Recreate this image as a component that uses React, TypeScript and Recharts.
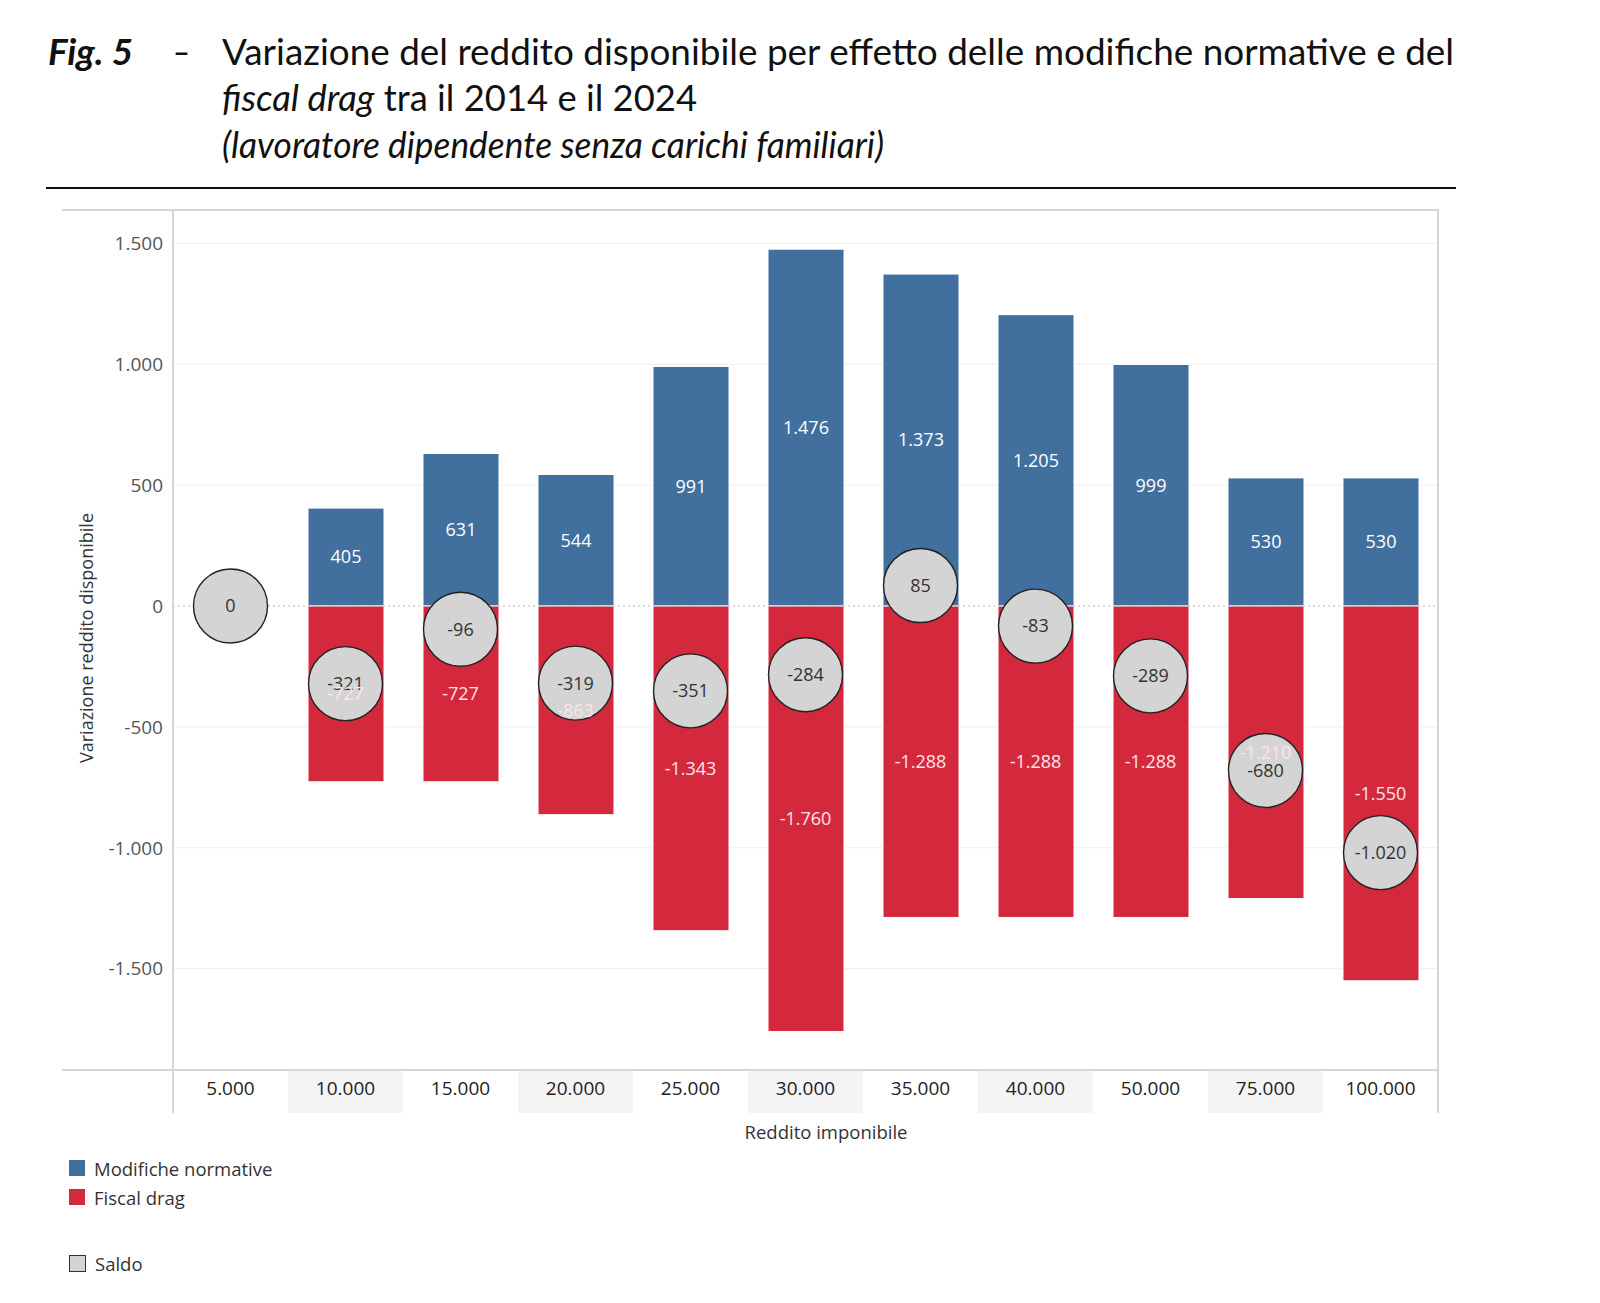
import React from 'react';
import {
  ComposedChart,
  Bar,
  Line,
  XAxis,
  YAxis,
  CartesianGrid,
  ReferenceLine,
  LabelList,
} from 'recharts';

// Reddito imponibile (income brackets)
const categories = ['5.000', '10.000', '15.000', '20.000', '25.000', '30.000', '35.000', '40.000', '50.000', '75.000', '100.000'];
// Effect of legislative changes
const modificheNormative = [null, 405, 631, 544, 991, 1476, 1373, 1205, 999, 530, 530];
// Effect of fiscal drag
const fiscalDrag = [null, -727, -727, -863, -1343, -1760, -1288, -1288, -1288, -1210, -1550];
// Net balance
const saldo = [0, -321, -96, -319, -351, -284, 85, -83, -289, -680, -1020];
const yTicks = [-1500, -1000, -500, 0, 500, 1000, 1500];

const BLUE = '#41709f';
const RED = '#d4293d';
const CIRCLE = '#d4d4d4';
const FONT = '"Open Sans", "Noto Sans", sans-serif';
const FRAME = '#d6d6d6';
const TICK_SIZE = 19;
const LABEL_SIZE = 18;

const fmt = (v: any) => {
  if (v === null || v === undefined || v === '') return '';
  const n = Number(v);
  const s = Math.abs(Math.round(n)).toString().replace(/\B(?=(\d{3})+(?!\d))/g, '.');
  return (n < 0 ? '-' : '') + s;
};

const data = categories.map((cat, i) => ({
  cat,
  mod: modificheNormative[i],
  fd: fiscalDrag[i],
  fdMid: fiscalDrag[i] === null ? null : (fiscalDrag[i] as number) / 2,
  saldo: saldo[i],
}));

// chart geometry
const CHART_TOP = 200;
const CHART_W = 1600;
const CHART_H = 920;
const MARGIN = { top: 10, right: 162, bottom: 7, left: 113 };
const Y_AXIS_W = 60;
const X_AXIS_H = 43;
const PLOT_LEFT = MARGIN.left + Y_AXIS_W;
const PLOT_W = CHART_W - PLOT_LEFT - MARGIN.right;
const BAND = PLOT_W / categories.length;

const XTick = (props: any) => {
  const { x, y, payload, index } = props;
  return (
    <g>
      {index % 2 === 1 && (
        <rect x={x - BAND / 2} y={y} width={BAND} height={X_AXIS_H} fill="#f4f4f4" />
      )}
      <text
        x={x}
        y={y + 18}
        textAnchor="middle"
        dominantBaseline="central"
        fill="#222"
        fontSize={TICK_SIZE}
        fontFamily={FONT}
      >
        {payload.value}
      </text>
    </g>
  );
};

const SaldoDot = (props: any) => {
  const { cx, cy, index } = props;
  if (cx == null || cy == null) return <g key={`d${index}`} />;
  return (
    <circle key={`d${index}`} cx={cx} cy={cy} r={37} fill={CIRCLE} stroke="#222" strokeWidth={1.4} />
  );
};

const Title = () => (
  <svg width={1600} height={200} style={{ position: 'absolute', left: 0, top: 0 }}>
    <g fontFamily='Lato, "Open Sans", sans-serif' fill="#111" fontSize={36}>
      <text x={48} y={65} fontWeight="bold" fontStyle="italic" textLength={85} lengthAdjust="spacingAndGlyphs">
        Fig. 5
      </text>
      <text x={173} y={65} textLength={17} lengthAdjust="spacingAndGlyphs">
        –
      </text>
      <text x={222} y={65} textLength={1232} lengthAdjust="spacingAndGlyphs">
        Variazione del reddito disponibile per effetto delle modifiche normative e del
      </text>
      <text x={222} y={111} textLength={475} lengthAdjust="spacingAndGlyphs">
        <tspan fontStyle="italic">fiscal drag</tspan>
        <tspan> tra il 2014 e il 2024</tspan>
      </text>
      <text x={222} y={158} fontStyle="italic" textLength={662} lengthAdjust="spacingAndGlyphs">
        (lavoratore dipendente senza carichi familiari)
      </text>
    </g>
    <rect x={46} y={187} width={1410} height={2} fill="#111" />
  </svg>
);

const line = (left: number, top: number, width: number, height: number, color = FRAME) => (
  <div style={{ position: 'absolute', left, top, width, height, background: color }} />
);

const LegendItem = ({ top, color, label, border }: { top: number; color: string; label: string; border?: boolean }) => (
  <div style={{ position: 'absolute', left: 69, top, display: 'flex', alignItems: 'center', height: 18 }}>
    <div
      style={{
        width: border ? 15 : 16,
        height: border ? 15 : 16,
        background: color,
        border: border ? '1.5px solid #333' : 'none',
        marginRight: 9,
      }}
    />
    <span style={{ fontFamily: FONT, fontSize: 18.5, color: '#333' }}>{label}</span>
  </div>
);

export default function App() {
  return (
    <div style={{ position: 'relative', width: 1600, height: 1303, background: '#fff', overflow: 'hidden' }}>
      <style>{'body{margin:0;}'}</style>
      <Title />

      <div style={{ position: 'absolute', left: 0, top: CHART_TOP }}>
        <ComposedChart width={CHART_W} height={CHART_H} data={data} margin={MARGIN} stackOffset="sign">
          <CartesianGrid
            vertical={false}
            stroke="#ededed"
            horizontalValues={[-1500, -1000, -500, 500, 1000, 1500]}
            verticalCoordinatesGenerator={({ offset }: any) =>
              categories.map((_, i) => (offset?.left ?? PLOT_LEFT) + i * ((offset?.width ?? PLOT_W) / categories.length))
            }
            verticalFill={['#ffffff', '#f4f4f4']}
            fillOpacity={1}
          />
          <XAxis
            dataKey="cat"
            type="category"
            interval={0}
            height={X_AXIS_H}
            tickSize={0}
            tickMargin={0}
            tickLine={false}
            axisLine={false}
            tick={<XTick />}
          />
          <YAxis
            type="number"
            domain={[-1919, 1638]}
            ticks={yTicks}
            width={Y_AXIS_W}
            tickFormatter={fmt}
            tickSize={0}
            tickMargin={10}
            tickLine={false}
            axisLine={false}
            tick={{ fill: '#555', fontSize: TICK_SIZE, fontFamily: FONT }}
          />
          <ReferenceLine y={0} stroke="#b8b8b8" strokeDasharray="2 3" strokeWidth={1} />
          <Bar dataKey="mod" stackId="s" fill={BLUE} stroke="#fff" strokeWidth={1} barSize={76} isAnimationActive={false}>
            <LabelList dataKey="mod" position="center" fill="#fff" fontSize={LABEL_SIZE} fontFamily={FONT} formatter={fmt} />
          </Bar>
          <Bar dataKey="fd" stackId="s" fill={RED} stroke="#fff" strokeWidth={1} barSize={76} isAnimationActive={false} />
          <Line
            dataKey="saldo"
            stroke="none"
            dot={SaldoDot}
            activeDot={false}
            isAnimationActive={false}
          >
            <LabelList dataKey="saldo" position="center" fill="#333" fontSize={LABEL_SIZE} fontFamily={FONT} formatter={fmt} />
          </Line>
          <Line dataKey="fdMid" stroke="none" dot={false} activeDot={false} isAnimationActive={false}>
            <LabelList dataKey="fd" position="center" fill="#fde4e8" fontSize={LABEL_SIZE} fontFamily={FONT} formatter={fmt} />
          </Line>
        </ComposedChart>
      </div>

      {/* frame */}
      {line(62, 209, 1377, 2)}
      {line(62, 1069, 1377, 2)}
      {line(172, 209, 2, 904)}
      {line(1437, 209, 2, 904)}

      {/* axis titles */}
      <div
        style={{
          position: 'absolute',
          left: 86,
          top: 638,
          transform: 'translate(-50%, -50%) rotate(-90deg)',
          whiteSpace: 'nowrap',
          fontFamily: FONT,
          fontSize: 18,
          color: '#333',
        }}
      >
        Variazione reddito disponibile
      </div>
      <div
        style={{
          position: 'absolute',
          left: 826,
          top: 1131,
          transform: 'translate(-50%, -50%)',
          whiteSpace: 'nowrap',
          fontFamily: FONT,
          fontSize: 18.5,
          color: '#333',
        }}
      >
        Reddito imponibile
      </div>

      {/* legend */}
      <LegendItem top={1159} color={BLUE} label="Modifiche normative" />
      <LegendItem top={1188} color={RED} label="Fiscal drag" />
      <LegendItem top={1254} color={CIRCLE} label="Saldo" border />
    </div>
  );
}
